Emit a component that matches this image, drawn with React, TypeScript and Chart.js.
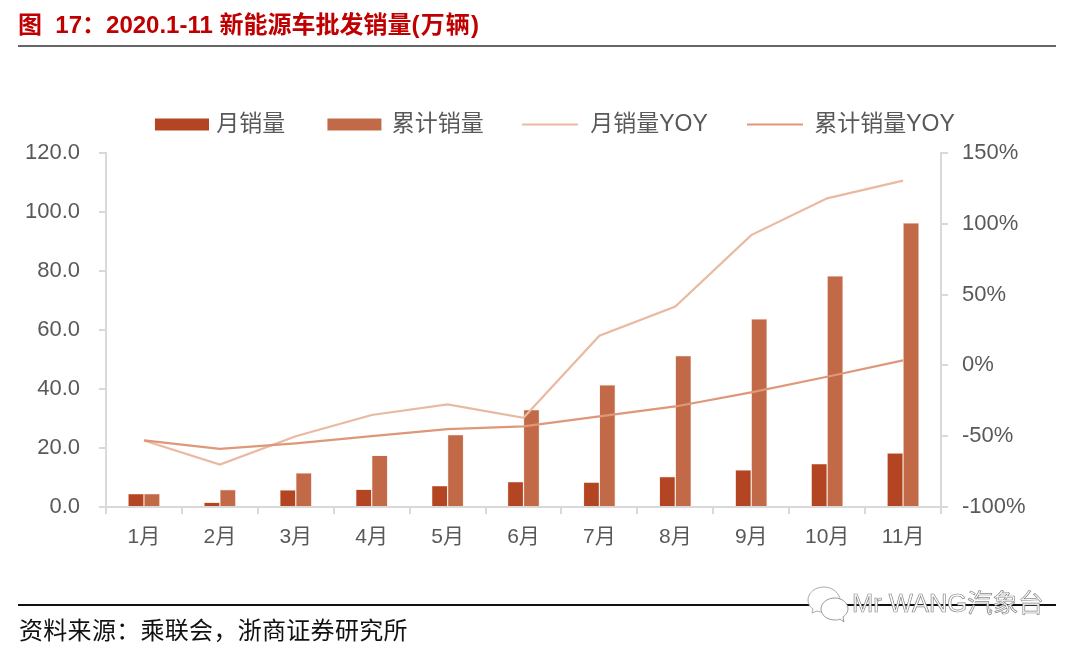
import React, { useEffect, useRef } from "react";
import { Chart, registerables } from "chart.js";

Chart.register(...registerables);

const months = ["1月", "2月", "3月", "4月", "5月", "6月", "7月", "8月", "9月", "10月", "11月"];
const monthlySales = [4.5, 1.6, 5.8, 6.0, 7.2, 8.6, 8.4, 10.3, 12.6, 14.7, 18.3];
const cumulativeSales = [4.5, 5.9, 11.6, 17.5, 24.5, 33.0, 41.4, 51.3, 63.8, 78.3, 96.3];
const monthlyYoy = [-53, -70, -50, -35, -27.5, -37, 21, 41.5, 92, 118, 130.5];
const cumulativeYoy = [-53, -59, -55, -50, -45, -43, -36, -29, -19, -8, 3.5];

const FONT = '"Liberation Sans", "Noto Sans CJK SC", sans-serif';
const TICK = "#595959";
const AXIS = "#D9D9D9";

function swatch(color: string, w: number, h: number, rightGap: number) {
  const c = document.createElement("canvas");
  c.width = 74;
  c.height = 14;
  const g = c.getContext("2d")!;
  g.fillStyle = color;
  g.fillRect(74 - w - rightGap, (14 - h) / 2, w, h);
  return c;
}

const legendGap = {
  id: "legendGap",
  beforeLayout(chart: any) {
    const legend = chart.legend;
    if (legend && !legend._gapWrapped) {
      legend._gapWrapped = true;
      const fit = legend.fit;
      legend.fit = function () {
        fit.call(this);
        this.height += 7;
      };
    }
  },
};

export default function App() {
  const ref = useRef<HTMLCanvasElement>(null);
  useEffect(() => {
    const styles = [
      swatch("#B34522", 54, 12, 0),
      swatch("#C26A48", 54, 12, 3),
      swatch("#E9B9A1", 56, 2, 5),
      swatch("#DE9879", 56, 2, 4),
    ];
    const chart = new Chart(ref.current!, {
      type: "bar",
      plugins: [legendGap],
      data: {
        labels: months,
        datasets: [
          { type: "bar", label: "月销量", data: monthlySales, backgroundColor: "#B34522", borderColor: "#F0D5C8", borderWidth: 0.6, yAxisID: "y", order: 2 },
          { type: "bar", label: "累计销量", data: cumulativeSales, backgroundColor: "#C26A48", borderColor: "#F0D5C8", borderWidth: 0.6, yAxisID: "y", order: 2 },
          { type: "line", label: "月销量YOY", data: monthlyYoy, borderColor: "#E9B9A1", borderWidth: 2.2, pointRadius: 0, tension: 0, yAxisID: "y1", order: 1 },
          { type: "line", label: "累计销量YOY", data: cumulativeYoy, borderColor: "#DE9879", borderWidth: 2.2, pointRadius: 0, tension: 0, yAxisID: "y1", order: 0 },
        ],
      } as any,
      options: {
        responsive: false,
        animation: false,
        layout: { padding: { top: 83.5, left: 14, right: 0, bottom: 0 } },
        datasets: { bar: { barPercentage: 1, categoryPercentage: 0.42 } },
        plugins: {
          tooltip: { enabled: false },
          legend: {
            display: true,
            position: "top",
            labels: {
              color: TICK,
              font: { size: 23, family: FONT },
              padding: 29.5,
              usePointStyle: true,
              pointStyleWidth: 65.5,
              generateLabels: (c: any) =>
                c.data.datasets.map((d: any, i: number) => ({
                  text: d.label,
                  fontColor: TICK,
                  datasetIndex: i,
                  pointStyle: styles[i],
                  lineWidth: 0,
                })),
            },
          },
        },
        scales: {
          x: {
            afterFit: (s: any) => { s.height = 143; },
            grid: { drawOnChartArea: false, tickLength: 7, color: AXIS, lineWidth: 2 },
            border: { color: AXIS, width: 2 },
            ticks: { color: TICK, font: { size: 21, family: FONT }, padding: 11, maxRotation: 0 },
          },
          y: {
            position: "left",
            min: 0,
            max: 120,
            afterFit: (s: any) => { s.width = 92; },
            grid: { drawOnChartArea: false, tickLength: 7, color: AXIS, lineWidth: 2 },
            border: { color: AXIS, width: 2 },
            ticks: { stepSize: 20, color: TICK, font: { size: 22, family: FONT }, padding: 19, callback: (v: any) => Number(v).toFixed(1) },
          },
          y1: {
            position: "right",
            min: -100,
            max: 150,
            afterFit: (s: any) => { s.width = 139; },
            grid: { drawOnChartArea: false, tickLength: 7, color: AXIS, lineWidth: 2 },
            border: { color: AXIS, width: 2 },
            ticks: { stepSize: 50, color: TICK, font: { size: 22, family: FONT }, padding: 14, callback: (v: any) => `${v}%` },
          },
        },
      },
    } as any);
    return () => chart.destroy();
  }, []);

  const abs = (s: React.CSSProperties): React.CSSProperties => ({ position: "absolute", whiteSpace: "nowrap", ...s });

  return (
    <div style={{ position: "absolute", left: 0, top: 0, width: 1080, height: 650, background: "#fff", overflow: "hidden" }}>
      <canvas ref={ref} width={1080} height={650} style={{ position: "absolute", left: 0, top: 0 }} />
      <div style={abs({ left: 18, top: 10, fontFamily: FONT, fontWeight: 700, fontSize: 24, lineHeight: "30px", color: "#C00000" })}>
        图&nbsp;&nbsp;17：2020.1-11 新能源车批发销量<span style={{ letterSpacing: 1.2 }}>(万辆)</span>
      </div>
      <div style={abs({ left: 18, top: 45, width: 1038, height: 2, background: "#666" })} />
      <div style={abs({ left: 18, top: 604, width: 1038, height: 1.5, background: "#111" })} />
      <div style={abs({ left: 19, top: 614, fontFamily: '"Noto Sans CJK SC", serif', fontSize: 24, lineHeight: "30px", letterSpacing: 0.3, color: "#111" })}>
        资料来源：乘联会，浙商证券研究所
      </div>
      <svg style={abs({ left: 806, top: 585 })} width="44" height="40" viewBox="0 0 44 40">
        <path d="M18 2c-9 0-16 6-16 13 0 4 2 7 5 9l-1 4 5-2c2 1 5 1 7 1 9 0 16-6 16-12S27 2 18 2z" fill="#fff" stroke="#aaa" />
        <path d="M29 13c-8 0-14 5-14 11s6 11 14 11c2 0 3 0 5-1l4 3-1-5c3-2 5-5 5-8 0-6-6-11-13-11z" fill="#fff" stroke="#999" />
      </svg>
      <div style={abs({ left: 852, top: 588, fontFamily: FONT, fontSize: 25.5, lineHeight: "30px", color: "#fff", WebkitTextStroke: "0.7px #888" as any })}>
        Mr WANG汽象台
      </div>
    </div>
  );
}
